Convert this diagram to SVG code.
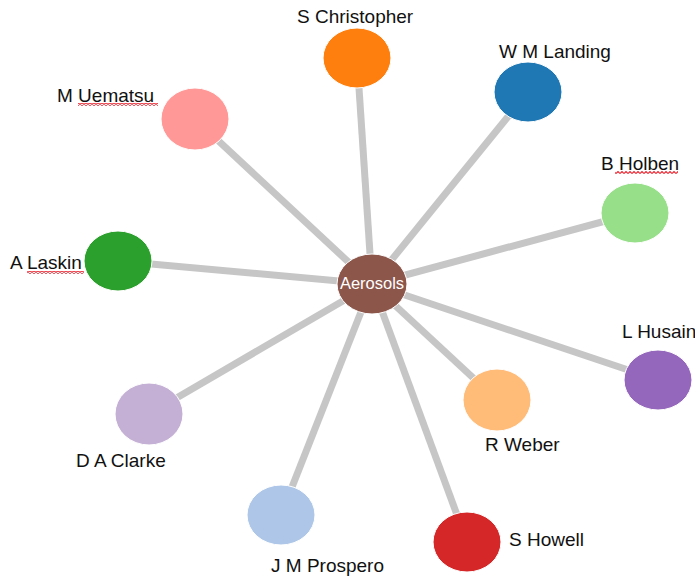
<svg xmlns="http://www.w3.org/2000/svg" width="695" height="578" viewBox="0 0 695 578">
<style>
.lbl{font-family:"Liberation Sans",Arial,sans-serif;font-size:19px;fill:#111}
.node ellipse{stroke:#fff;stroke-width:1}
.edge{stroke:#c6c6c6;stroke-width:7;stroke-linecap:butt}
.center{font-family:"Liberation Sans",Arial,sans-serif;font-size:16.5px;fill:#fff}
</style>
<defs>
<pattern id="sq" width="4" height="3" patternUnits="userSpaceOnUse">
<path d="M0,2.5 L2,0.5 L4,2.5" fill="none" stroke="#e8303a" stroke-width="1.2"/>
</pattern>
</defs>
<rect width="695" height="578" fill="#fff"/>
<g id="edges">
<line class="edge" x1="372" y1="284" x2="357" y2="58"/>
<line class="edge" x1="372" y1="284" x2="528" y2="92"/>
<line class="edge" x1="372" y1="284" x2="195" y2="119"/>
<line class="edge" x1="372" y1="284" x2="635" y2="213"/>
<line class="edge" x1="372" y1="284" x2="118" y2="261"/>
<line class="edge" x1="372" y1="284" x2="658" y2="380"/>
<line class="edge" x1="372" y1="284" x2="149" y2="414"/>
<line class="edge" x1="372" y1="284" x2="497" y2="400"/>
<line class="edge" x1="372" y1="284" x2="281" y2="515"/>
<line class="edge" x1="372" y1="284" x2="467" y2="542"/>
</g>
<g id="n-christopher" class="node"><ellipse cx="357" cy="58" rx="34" ry="30" fill="#ff7f0e"/><text class="lbl" x="297" y="23">S Christopher</text></g>
<g id="n-landing" class="node"><ellipse cx="528" cy="92" rx="34" ry="30" fill="#1f77b4"/><text class="lbl" x="499" y="58">W M Landing</text></g>
<g id="n-uematsu" class="node"><ellipse cx="195" cy="119" rx="34" ry="31" fill="#ff9896"/><text class="lbl" x="57" y="102">M Uematsu</text><rect x="78" y="103" width="80" height="3" fill="url(#sq)"/></g>
<g id="n-holben" class="node"><ellipse cx="635" cy="213" rx="34" ry="30" fill="#98df8a"/><text class="lbl" x="601" y="170">B Holben</text><rect x="615" y="171" width="63" height="3" fill="url(#sq)"/></g>
<g id="n-laskin" class="node"><ellipse cx="118" cy="261" rx="34" ry="30" fill="#2ca02c"/><text class="lbl" x="10" y="269">A Laskin</text><rect x="27" y="271" width="57" height="3" fill="url(#sq)"/></g>
<g id="n-husain" class="node"><ellipse cx="658" cy="380" rx="34" ry="30" fill="#9467bd"/><text class="lbl" x="622" y="338">L Husain</text></g>
<g id="n-clarke" class="node"><ellipse cx="149" cy="414" rx="34" ry="31" fill="#c5b0d5"/><text class="lbl" x="76" y="467">D A Clarke</text></g>
<g id="n-weber" class="node"><ellipse cx="497" cy="400" rx="34" ry="31" fill="#ffbb78"/><text class="lbl" x="485" y="451">R Weber</text></g>
<g id="n-prospero" class="node"><ellipse cx="281" cy="515" rx="34" ry="30" fill="#aec7e8"/><text class="lbl" x="271" y="572">J M Prospero</text></g>
<g id="n-howell" class="node"><ellipse cx="467" cy="542" rx="34" ry="30" fill="#d62728"/><text class="lbl" x="509" y="546">S Howell</text></g>
<g id="n-aerosols" class="node"><ellipse cx="372" cy="284" rx="35" ry="30" fill="#8c564b"/><text class="center" x="372" y="289" text-anchor="middle">Aerosols</text></g>
</svg>
